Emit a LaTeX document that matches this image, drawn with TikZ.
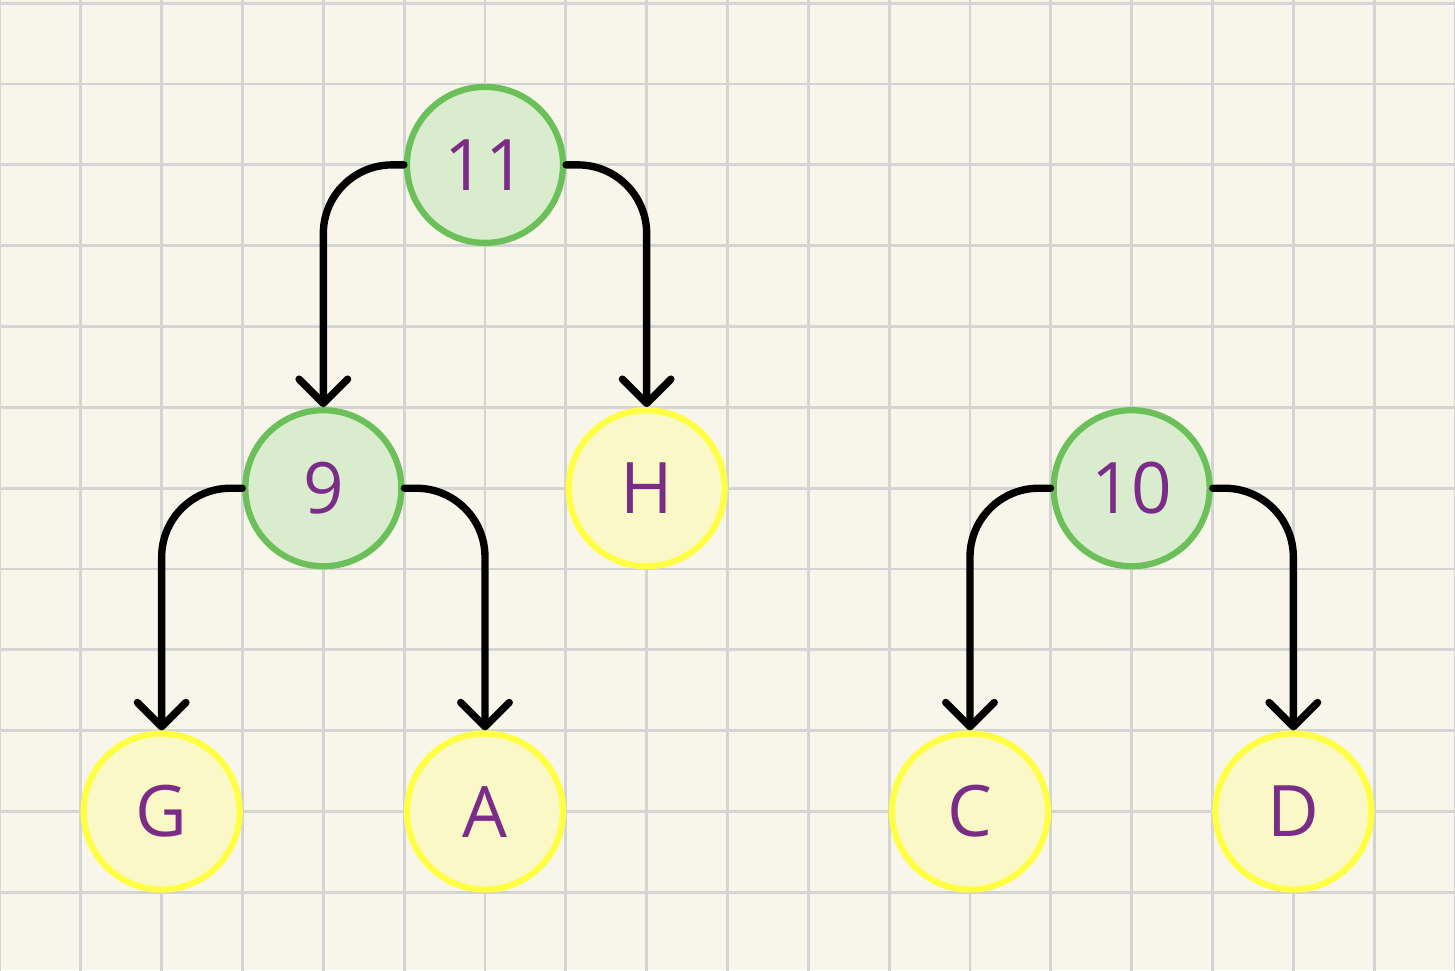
\documentclass[tikz,border=0pt]{standalone}
\usepackage{fontspec}
\setsansfont{Open Sans}
\usepackage{tikz}
\usetikzlibrary{positioning,arrows.meta}

\definecolor{paper}{HTML}{F8F6EA}
\definecolor{gridgray}{HTML}{D4D4D2}
\definecolor{innerline}{HTML}{6CC05A}
\definecolor{innerfill}{HTML}{D9EDCE}
\definecolor{leafline}{HTML}{FFFF44}
\definecolor{leaffill}{HTML}{FAF8C6}
\definecolor{labelpurple}{HTML}{7A2C86}

\begin{document}
\begin{tikzpicture}[
node distance=4cm and 2cm, on grid,
inner/.style={circle, draw=innerline, fill=innerfill, line width=2.2pt, minimum size=1.93cm, font=\sffamily\fontsize{25}{25}\selectfont, text=labelpurple},
leaf/.style={inner, draw=leafline, fill=leaffill},
edge/.style={-{Straight Barb[length=3mm, width=6mm, line join=round, line cap=round]}, line width=2.6pt, rounded corners=0.85cm, line cap=round}
]
\useasboundingbox (0,0) rectangle (18,12);
\fill[paper] (0,0) rectangle (18,12);
\begin{scope}[yshift=-0.04cm]
\draw[gridgray, line width=1pt] (0,0) grid (18,12.04);
\end{scope}

% first tree
\node[inner] (n11) at (6,9.96) {11};
\node[inner, below left=of n11] (n9) {9};
\node[leaf, below right=of n11] (h) {H};
\node[leaf, below left=of n9] (g) {G};
\node[leaf, below right=of n9] (a) {A};

% second tree
\node[inner] (n10) at (14,5.96) {10};
\node[leaf, below left=of n10] (c) {C};
\node[leaf, below right=of n10] (d) {D};

\draw[edge] (n11.west) -| (n9.north);
\draw[edge] (n11.east) -| (h.north);
\draw[edge] (n9.west) -| (g.north);
\draw[edge] (n9.east) -| (a.north);
\draw[edge] (n10.west) -| (c.north);
\draw[edge] (n10.east) -| (d.north);
\end{tikzpicture}
\end{document}
